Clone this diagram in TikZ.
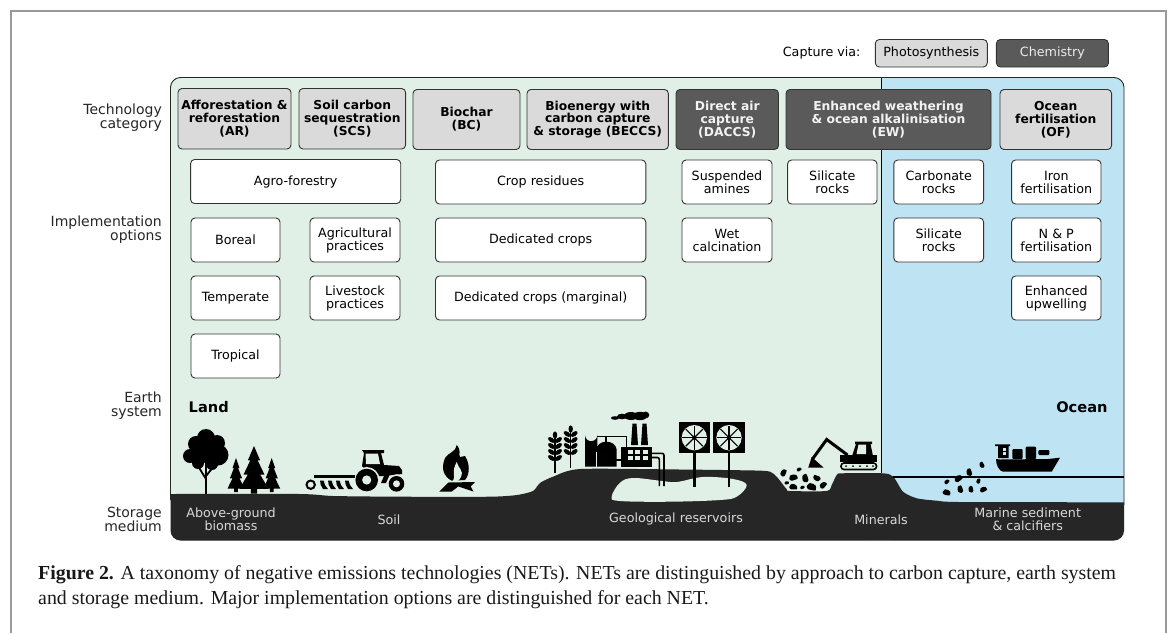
\documentclass[tikz,border=0pt]{standalone}
\usepackage{fontspec}
\setmainfont{DejaVu Sans}
\newfontfamily\capfont{Liberation Serif}
\definecolor{land}{HTML}{E0F0E6}
\definecolor{ocean}{HTML}{BEE3F2}
\definecolor{soil}{HTML}{262626}
\definecolor{light}{HTML}{DADADA}
\definecolor{dark}{HTML}{5A5A5A}
\definecolor{frame}{HTML}{999999}
\definecolor{boxline}{HTML}{333333}
\tikzset{
 boxbase/.style={rounded corners=4pt,draw=boxline,line width=0.9pt,inner sep=0pt,align=center},
 optbox/.style={boxbase,fill=white,font=\fontsize{12.7}{13}\selectfont},
 catlight/.style={boxbase,fill=light,font=\bfseries\fontsize{12.3}{12.8}\selectfont},
 catdark/.style={boxbase,fill=dark,text=white!92!dark,font=\bfseries\fontsize{12.3}{12.8}\selectfont},
 leglight/.style={boxbase,fill=light,font=\fontsize{12.7}{13}\selectfont},
 legdark/.style={boxbase,fill=dark,text=white!88!dark,font=\fontsize{12.7}{13}\selectfont},
 sidelabel/.style={anchor=east,align=right,inner sep=0pt,font=\fontsize{14}{14}\selectfont,text=black!85},
 groundlabel/.style={align=center,inner sep=0pt,text=white!85!black,font=\fontsize{12.7}{13}\selectfont},
 biglabel/.style={inner sep=0pt,font=\bfseries\fontsize{14.6}{15}\selectfont},
 pipe/.style={draw=black,line width=1.6pt},
}
\newcommand{\bx}[7]{\node[#1,minimum width={(#4-#2)*1pt},minimum height={(#5-#3)*1pt}] (#6) at ({(#2+#4)/2},{(#3+#5)/2}) {#7};}
\newcommand{\pine}[4]{\fill[black,shift={(#1,#2)},x=#3pt,y=-#4pt]
 (0,0)--(.42,.30)--(.25,.30)--(.72,.60)--(.42,.60)--(1,.90)--(.22,.90)--(.22,1)--(-.22,1)--(-.22,.90)--(-1,.90)--(-.42,.60)--(-.72,.60)--(-.25,.30)--(-.42,.30)--cycle;}
\newcommand{\rock}[4]{\fill[black,rounded corners=.6pt,shift={(#1,#2)},rotate=#4,x=#3pt,y=#3pt]
 (-1.1,-.3)--(-.6,-.8)--(.3,-.7)--(1.1,-.5)--(.9,.4)--(.2,.7)--(-.7,.6)--cycle;}
\newcommand{\wheat}[3]{%
 \draw[black,line width=1.5pt] (#1,#2) -- (#1,#3);
 \fill[black] (#1,{#2+2}) ellipse (2.2 and 3.6);
 \foreach \dy in {6,12,18,24}{
  \fill[black,rotate around={35:(#1+3.5,#2+\dy+1)}] (#1+3.5,#2+\dy+1) ellipse (4 and 2.2);
  \fill[black,rotate around={-35:(#1-3.5,#2+\dy+1)}] (#1-3.5,#2+\dy+1) ellipse (4 and 2.2);
 }}
\newcommand{\fan}[2]{%
 \fill[black] (#1-15.8,#2-15.7) rectangle (#1+15.8,#2+15.7);
 \fill[land] (#1,#2) circle (12.7);
 \foreach \a in {0,45,...,315}{\draw[black,line width=1.1pt] (#1,#2) -- ++(\a:12.2);}
 \fill[black] (#1,#2) circle (2.2);
 \draw[black,line width=2.8pt] (#1,#2+15) -- (#1,486.7);}
\begin{document}
\begin{tikzpicture}[x=1pt,y=-1pt]
\useasboundingbox (0,0) rectangle (1170,633);
\fill[white] (0,0) rectangle (1170,633);
\draw[frame,line width=2pt] (11,633) -- (11,10.5) -- (1165.5,10.5) -- (1165.5,633);
% panel
\fill[land,rounded corners=10pt] (881,77.5) -| (170.5,540.5) -| (881,77.5);
\fill[ocean,rounded corners=10pt] (881,77.5) -| (1124,540.5) -| (881,77.5);
\draw[black!85,line width=.9pt,rounded corners=10pt] (170.5,500) |- (1124,77.5) -- (1124,505);
% ground
\fill[soil] (170.5,494) -- plot[smooth,tension=.4] coordinates {(170.5,494) (300,494) (333,496) (400,496.7) (490,496.7) (517,495) (533,491) (540,483) (553,476.7) (580,469) (680,469.5) (755,470.5) (770,471.7) (776.7,476.7) (786.7,489.3) (790,491) (826.7,491) (831.7,485) (836.7,475) (841.7,473.3) (883,473.3) (893.3,476.7) (903,491.7) (916.7,498.3) (936.7,500.7) (960,502) (1124,502.3)}
 [rounded corners=10pt] -- (1124,540.5) -- (170.5,540.5) [sharp corners] -- cycle;
\fill[land] plot[smooth cycle,tension=.6] coordinates {(611.7,496.7) (620,482.7) (633,478) (660,480.7) (676.7,482) (703,477) (733,479) (746.7,485) (736.7,496.7) (720,500) (670,501.7) (620,501)};
\draw[black,line width=1pt] (881,77.5) -- (881,473.3);
\draw[black,line width=1.6pt] (893,476.7) -- (1124,476.7);
% side labels
\node[sidelabel] (techlab) at (162,118) {Technology\\category};
\node[sidelabel] (impllab) at (162,230) {Implementation\\options};
\node[sidelabel] (earthlab) at (162,406) {Earth\\system};
\node[sidelabel] (storelab) at (162,519.5) {Storage\\medium};
% legend
\node[inner sep=0pt,font=\fontsize{12.7}{13}\selectfont,anchor=east] (capvia) at (860.7,52.5) {Capture via:};
\bx{leglight}{875.3}{39.5}{987.3}{67}{legphoto}{Photosynthesis}
\bx{legdark}{996.4}{39.5}{1108.4}{67}{legchem}{Chemistry}
% categories
\bx{catlight}{178}{88.5}{291}{149}{catar}{Afforestation \&\\reforestation\\(AR)}
\bx{catlight}{299}{88.5}{405.6}{149}{catscs}{Soil carbon\\sequestration\\(SCS)}
\bx{catlight}{413}{89.5}{520}{149.5}{catbc}{Biochar\\(BC)}
\bx{catlight}{527}{89.5}{668.4}{149.5}{catbeccs}{Bioenergy with\\carbon capture\\\& storage (BECCS)}
\bx{catdark}{676}{89.5}{778.5}{149.5}{catdac}{Direct air\\capture\\(DACCS)}
\bx{catdark}{786}{89.5}{991}{149.5}{catew}{Enhanced weathering\\\& ocean alkalinisation\\(EW)}
\bx{catlight}{1000}{89.5}{1111.6}{149.5}{catof}{Ocean\\fertilisation\\(OF)}
% options
\bx{optbox}{190.6}{159.5}{400.7}{203.5}{agro}{Agro-forestry}
\bx{optbox}{191}{218}{280}{262}{boreal}{Boreal}
\bx{optbox}{191}{276}{280}{320}{temperate}{Temperate}
\bx{optbox}{191}{334}{280}{378}{tropical}{Tropical}
\bx{optbox}{310}{218}{400}{262}{agric}{Agricultural\\practices}
\bx{optbox}{310}{276}{400}{320}{livestock}{Livestock\\practices}
\bx{optbox}{435.5}{160}{645.8}{204}{residues}{Crop residues}
\bx{optbox}{435.5}{218}{645.8}{262}{dedicated}{Dedicated crops}
\bx{optbox}{435.5}{276}{645.8}{320}{marginal}{Dedicated crops (marginal)}
\bx{optbox}{682}{160}{772}{204}{amines}{Suspended\\amines}
\bx{optbox}{682}{218}{772}{262}{wetcalc}{Wet\\calcination}
\bx{optbox}{787.6}{160}{877}{204}{silone}{Silicate\\rocks}
\bx{optbox}{893.8}{160}{983.6}{204}{carbonate}{Carbonate\\rocks}
\bx{optbox}{893.8}{218}{983.6}{262}{siltwo}{Silicate\\rocks}
\bx{optbox}{1011.6}{160}{1101}{204}{iron}{Iron\\fertilisation}
\bx{optbox}{1011.6}{218}{1101}{262}{npfert}{N \& P\\fertilisation}
\bx{optbox}{1011.6}{276}{1101}{320}{upwell}{Enhanced\\upwelling}
% big labels
\node[biglabel,anchor=west] (landlab) at (188.5,406.7) {Land};
\node[biglabel,anchor=east] (oceanlab) at (1107.7,406.7) {Ocean};
% ground labels
\node[groundlabel] (gbio) at (231,519.5) {Above-ground\\biomass};
\node[groundlabel] (gsoil) at (389,519.5) {Soil};
\node[groundlabel] (ggeo) at (676,518.5) {Geological reservoirs};
\node[groundlabel] (gmin) at (881,519.5) {Minerals};
\node[groundlabel] (gmar) at (1027.7,519.5) {Marine sediment\\\& calcifiers};
% tree
\draw[black,line width=2.4pt] (206,494) -- (206,462);
\draw[black,line width=1.8pt] (206,479) -- (198,466) (206,476) -- (214,466);
\foreach \cx/\cy/\r in {206/438/9,196/444/8,217/443/8,190/456/7,203/452/11,218/455/10.5,198/463/6,212/464/6}{\fill[black] (\cx,\cy) circle (\r);}
% pines
\pine{236}{458}{8.5}{34}
\pine{254}{446}{14.5}{47.5}
\pine{271.7}{458}{8.5}{34}
% tractor
\fill[black] (362,450) -- (384,450) -- (384,453) -- (381,453) -- (384,465) -- (399,466) -- (402,470) -- (402,474) -- (384,476) -- (372,476) -- (362,466) -- (364,453) -- cycle;
\fill[land] (365.5,453.5) -- (378,453.5) -- (380,464) -- (366,464) -- cycle;
\fill[land] (366.7,480) circle (13);
\fill[land] (396.5,483.8) circle (9.5);
\fill[black] (366.7,480) circle (11.3);
\fill[land] (366.7,480) circle (4.6);
\fill[black] (396.5,483.8) circle (7.8);
\fill[land] (396.5,483.8) circle (3.5);
\fill[black] (384,476) -- (390,474) -- (386,483) -- (381,483) -- cycle;
\draw[black,line width=2.6pt] (314,476.7) -- (355,476.7);
\draw[black,line width=2pt] (310.7,484.7) circle (4.2);
\foreach \tx in {320,328,336,345}{\fill[black] (\tx,480.5) -- (\tx+3.5,480.5) .. controls (\tx+4,484) and (\tx+6,487) .. (\tx+8,489) -- (\tx+3,489) .. controls (\tx+1,486) and (\tx,484) .. cycle;}
% fire
\fill[black] (456.7,445) .. controls (462,451) and (458,454) .. (460,457) .. controls (462,457) and (463,456) .. (465,456) .. controls (470,464) and (470,474) .. (465,480) -- (451.7,480.7) .. controls (443,476) and (441,468) .. (445,458) .. controls (449,452) and (456,452) .. (456.7,445) -- cycle;
\fill[land] (456.7,462) .. controls (458,468) and (464,470) .. (461,477) .. controls (460,480) and (458,481) .. (457,481) -- (453,481) .. controls (456,476) and (451,472) .. (456.7,462) -- cycle;
\fill[black] (439.3,491.5) -- (448.3,482.5) -- (475,482) -- (470.7,486.5) -- (473.5,491.5) -- (458.3,486.5) -- (451.7,491.5) -- cycle;
% wheat
\wheat{555}{433}{473}
\wheat{570.7}{427}{468}
% factory
\fill[black] (585,466.7) -- (585,435) arc[start angle=180,end angle=0,radius=6.2] -- (597.4,466.7) -- cycle;
\fill[black] (596,466.7) -- (596,451) .. controls (596,444) and (602,441.7) .. (606.3,441.7) .. controls (611,441.7) and (616.7,444) .. (616.7,451) -- (616.7,466.7) -- cycle;
\draw[land,line width=.8pt] (596.5,452) -- (596.5,466.7);
\draw[black,line width=1.2pt] (597,436.7) -- (626.7,436.7) -- (626.7,447);
\draw[black,line width=1.2pt] (606,436.7) -- (606,442);
\draw[black,line width=1.2pt] (616,460) -- (622,460);
\fill[black] (621,446.7) rectangle (651.7,466.7);
\foreach \wx in {628,635,642.5}{\foreach \wy in {450,456}{\fill[land] (\wx,\wy) rectangle (\wx+5,\wy+3.8);}}
\fill[black] (632.5,423.5) -- (636.5,423.5) -- (638,445) -- (631,445) -- cycle;
\fill[black] (642.5,423.5) -- (646.5,423.5) -- (648,445) -- (641,445) -- cycle;
\foreach \cx/\cy/\a/\b in {615/418/4/1.8,622/416.5/5/2.8,631/416/7/4,640/416/7/4.2,645.5/415/3.8/3.4}{\fill[black] (\cx,\cy) ellipse (\a pt and \b pt);}
\draw[pipe,rounded corners=2pt] (651.7,453.3) -- (664,453.3) -- (664,486);
\draw[pipe,rounded corners=2pt] (651.7,457.5) -- (659.3,457.5) -- (659.3,486);
% fans
\fan{694.3}{437.7}
\fan{729}{437.7}
% pit rocks
\foreach \rx/\ry/\rs/\ra in {783.3/472.7/3.6/60,799/469.3/2.4/20,793.3/477.3/4/10,805/478.3/4/100,816.7/478.3/3.6/150,823/485/3.6/40,811.7/486.7/4.6/340,793.3/486.7/3.8/350,802.3/487.3/2.2/20,786.7/482.7/2.2/10}{\rock{\rx}{\ry}{\rs}{\ra}}
% excavator
\draw[black,line width=3pt,line join=miter] (847.5,455) -- (826.7,439.5) -- (812.5,459);
\fill[black] (811.7,457) -- (823.5,467.5) -- (808.3,467.5) -- cycle;
\fill[black] (855,441.7) -- (872,441.7) -- (872,444) -- (870.5,444) -- (873,456) -- (852,456) -- (856,444) -- (855,444) -- cycle;
\fill[land] (858.5,444.5) -- (866,444.5) -- (866,454) -- (856.5,454) -- cycle;
\fill[black] (840,455) -- (877,455) -- (877,461.5) -- (840,461.5) -- cycle;
\draw[black,line width=1.6pt,rounded corners=3pt,fill=land] (841,463) rectangle (876.5,469.5);
\foreach \bk in {846,853,860,867,873}{\fill[black] (\bk,466.2) circle (1);}
% ship
\fill[black] (996,459) -- (1000,459.5) -- (1048,459) -- (1060,457.7) -- (1051.7,471.7) -- (1003,471.7) .. controls (999,471) and (996,465) .. (996,459) -- cycle;
\fill[black] (995,444.3) -- (1010,444.3) -- (1010,446) -- (1008.5,446) -- (1008.5,458) -- (998,458) -- (998,446) -- (995,446) -- cycle;
\fill[land!60!ocean] (1003,447.5) rectangle (1006,450.5);
\fill[land!60!ocean] (1003,452) rectangle (1006,455);
\fill[black,rounded corners=1pt] (1012.3,449) rectangle (1022.7,459);
\fill[black,rounded corners=1pt] (1025.7,446.7) rectangle (1036,459);
\fill[black,rounded corners=1pt] (1038.3,450) rectangle (1049.3,455);
% sea rocks
\foreach \rx/\ry/\rs/\ra in {981.7/465/3/110,969/472.3/3.6/100,958.3/478.3/4/30,946.7/481.7/2.6/40,978.3/481/2.6/70,946.7/492.3/3.8/340,960/489.3/3.6/100,970.7/489.3/3.2/95,983.3/489.3/3.4/20}{\rock{\rx}{\ry}{\rs}{\ra}}
% caption
\node[inner sep=0pt,anchor=west,align=left,font=\capfont\fontsize{19.85}{24.5}\selectfont,text=black!90] (caption) at (38,587) {\textbf{Figure 2.} A taxonomy of negative emissions technologies (NETs). NETs are distinguished by approach to carbon capture, earth system\\and storage medium. Major implementation options are distinguished for each NET.};
\end{tikzpicture}
\end{document}
